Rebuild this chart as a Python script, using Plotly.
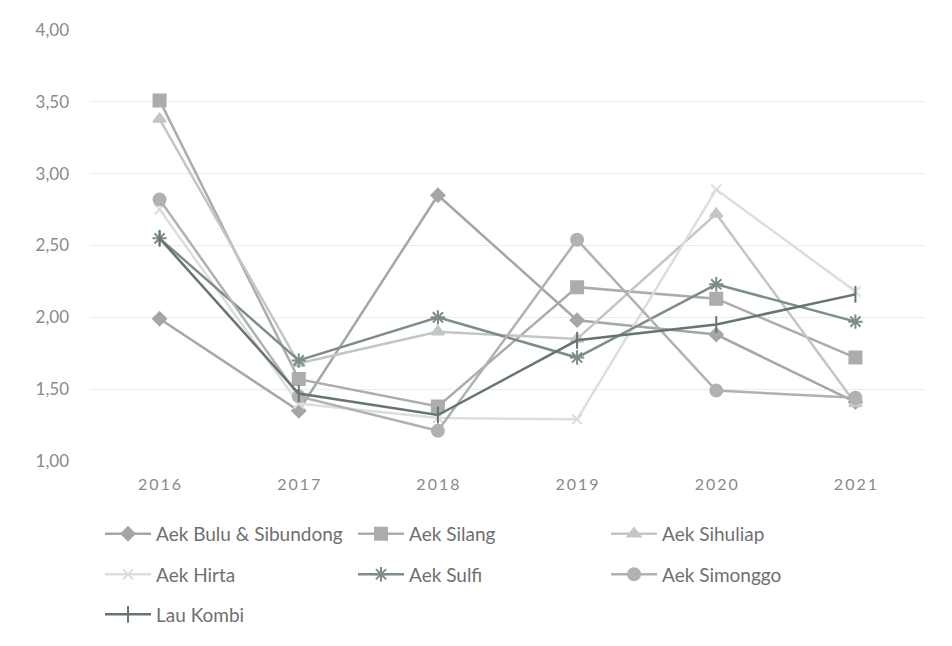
import plotly.graph_objects as go

years = ["2016", "2017", "2018", "2019", "2020", "2021"]

aek_bulu_sibundong = [1.99, 1.35, 2.85, 1.98, 1.88, 1.41]
aek_silang = [3.51, 1.57, 1.38, 2.21, 2.13, 1.72]
aek_sihuliap = [3.38, 1.68, 1.90, 1.85, 2.72, 1.40]
aek_hirta = [2.75, 1.40, 1.30, 1.29, 2.89, 2.18]
aek_sulfi = [2.55, 1.70, 2.00, 1.72, 2.23, 1.97]
aek_simonggo = [2.82, 1.45, 1.21, 2.54, 1.49, 1.44]
lau_kombi = [2.55, 1.47, 1.32, 1.84, 1.95, 2.16]

# (name, values, colour, marker symbol, marker size, legend row)
series = [
    ("Aek Bulu & Sibundong", aek_bulu_sibundong, "#a3a7a6", "diamond", 10, "legend"),
    ("Aek Silang", aek_silang, "#acacac", "square", 12, "legend"),
    ("Aek Sihuliap", aek_sihuliap, "#c4c6c5", "triangle-up", 11, "legend"),
    ("Aek Hirta", aek_hirta, "#dcdddc", "x-thin-open", 10, "legend2"),
    ("Aek Sulfi", aek_sulfi, "#7d8d88", "asterisk-open", 12, "legend2"),
    ("Aek Simonggo", aek_simonggo, "#b0b2b1", "circle", 12, "legend2"),
    ("Lau Kombi", lau_kombi, "#66766f", "line-ns-open", 12, "legend3"),
]

fig = go.Figure()
for name, vals, color, symbol, size, leg in series:
    fig.add_trace(go.Scatter(
        x=years, y=vals, name=name, mode="lines+markers",
        line=dict(color=color, width=2.5),
        marker=dict(symbol=symbol, size=size, color=color,
                    line=dict(color=color, width=2)),
        legend=leg,
    ))

font_family = "Lato, 'Open Sans', sans-serif"
legend_common = dict(
    orientation="h", x=0.012, xanchor="left", yanchor="top",
    entrywidth=192, entrywidthmode="pixels", itemwidth=46,
    font=dict(size=19, color="#6f6f6f", family=font_family),
    bgcolor="rgba(0,0,0,0)",
)

fig.update_layout(
    width=952, height=646,
    margin=dict(l=90, r=27, t=30, b=183),
    paper_bgcolor="white", plot_bgcolor="white",
    separators=",.",
    font=dict(family=font_family, color="#8a8a8a"),
    showlegend=True,
    legend=dict(legend_common, y=-0.125),
    legend2=dict(legend_common, y=-0.219),
    legend3=dict(legend_common, y=-0.312),
)

# spaced-out year labels
year_labels = ["\u2009".join(y) for y in years]
fig.update_xaxes(
    type="category", range=[-0.5, 5.5], showgrid=False, zeroline=False,
    showline=False, ticks="", tickfont=dict(size=16, color="#8a8a8a"),
    tickvals=years, ticktext=year_labels,
    ticklabelstandoff=12,
)
fig.update_yaxes(
    range=[1, 4], dtick=0.5, tickformat=".2f", showgrid=True,
    gridcolor="#ececec", gridwidth=1, zeroline=False, showline=False,
    tickfont=dict(size=17, color="#8a8a8a"), ticklabelstandoff=20,
)

fig.write_html("out.html")
